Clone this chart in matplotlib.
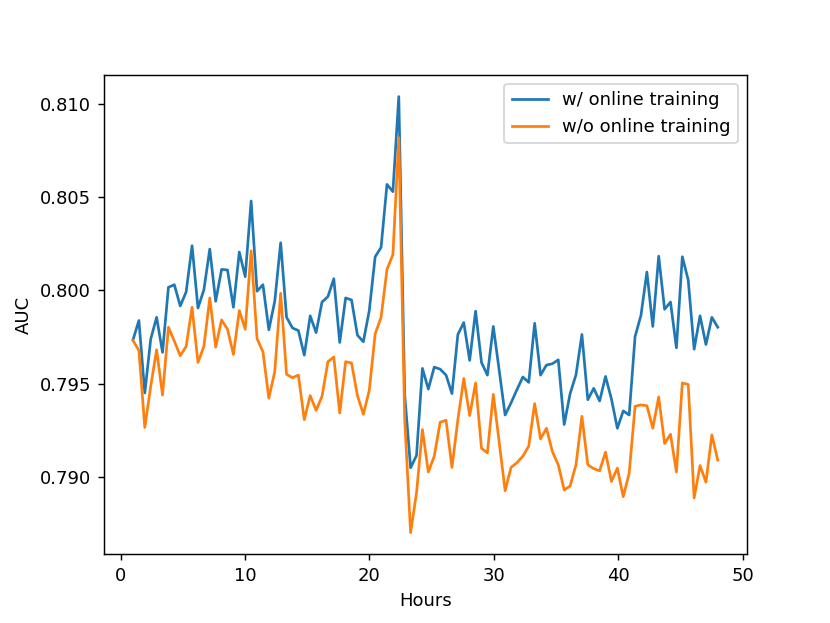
import numpy as np
import matplotlib
matplotlib.use("Agg")
import matplotlib.pyplot as plt

hours = np.linspace(1, 48, 100)

auc_online = [
    0.79734, 0.79838, 0.79449, 0.79738, 0.79855, 0.79667, 0.80016, 0.80030, 0.79916, 0.79991,
    0.80239, 0.79905, 0.80002, 0.80221, 0.79941, 0.80112, 0.80109, 0.79909, 0.80205, 0.80073,
    0.80479, 0.79995, 0.80030, 0.79788, 0.79941, 0.80255, 0.79855, 0.79798, 0.79784, 0.79652,
    0.79863, 0.79773, 0.79937, 0.79966, 0.80062, 0.79720, 0.79959, 0.79948, 0.79759, 0.79724,
    0.79891, 0.80180, 0.80230, 0.80568, 0.80529, 0.81039, 0.79440, 0.79048, 0.79114, 0.79581,
    0.79470, 0.79588, 0.79577, 0.79545, 0.79446, 0.79763, 0.79827, 0.79624, 0.79888, 0.79613,
    0.79545, 0.79806, 0.79570, 0.79331, 0.79396, 0.79467, 0.79535, 0.79506, 0.79823, 0.79545,
    0.79599, 0.79606, 0.79627, 0.79280, 0.79445, 0.79547, 0.79763, 0.79413, 0.79474, 0.79406,
    0.79538, 0.79417, 0.79260, 0.79353, 0.79331, 0.79752, 0.79866, 0.80098, 0.79806, 0.80183,
    0.79898, 0.79937, 0.79691, 0.80180, 0.80055, 0.79684, 0.79863, 0.79709, 0.79855, 0.79802,
]

auc_offline = [
    0.79731, 0.79677, 0.79264, 0.79485, 0.79681, 0.79438, 0.79802, 0.79727, 0.79649, 0.79699,
    0.79909, 0.79613, 0.79699, 0.79959, 0.79695, 0.79841, 0.79791, 0.79656, 0.79891, 0.79791,
    0.80212, 0.79741, 0.79670, 0.79421, 0.79563, 0.79984, 0.79549, 0.79531, 0.79545, 0.79306,
    0.79435, 0.79356, 0.79431, 0.79617, 0.79642, 0.79342, 0.79617, 0.79610, 0.79435, 0.79335,
    0.79463, 0.79766, 0.79855, 0.80112, 0.80191, 0.80818, 0.79306, 0.78700, 0.78914, 0.79253,
    0.79025, 0.79110, 0.79292, 0.79303, 0.79050, 0.79306, 0.79527, 0.79328, 0.79503, 0.79153,
    0.79128, 0.79442, 0.79184, 0.78925, 0.79050, 0.79075, 0.79110, 0.79164, 0.79392, 0.79203,
    0.79260, 0.79135, 0.79064, 0.78929, 0.78950, 0.79064, 0.79324, 0.79064, 0.79043, 0.79032,
    0.79132, 0.78975, 0.79046, 0.78893, 0.79018, 0.79378, 0.79385, 0.79381, 0.79260, 0.79428,
    0.79178, 0.79228, 0.79025, 0.79503, 0.79495, 0.78886, 0.79060, 0.78971, 0.79224, 0.79089,
]

labels = ["w/ online training", "w/o online training"]

fig, ax = plt.subplots(figsize=(830 / 130, 623 / 130), dpi=130)
ax.plot(hours, auc_online, label=labels[0])
ax.plot(hours, auc_offline, label=labels[1])
ax.set_xlabel("Hours")
ax.set_ylabel("AUC")
ax.legend(loc="upper right")
fig.savefig("out.png", dpi=130)
